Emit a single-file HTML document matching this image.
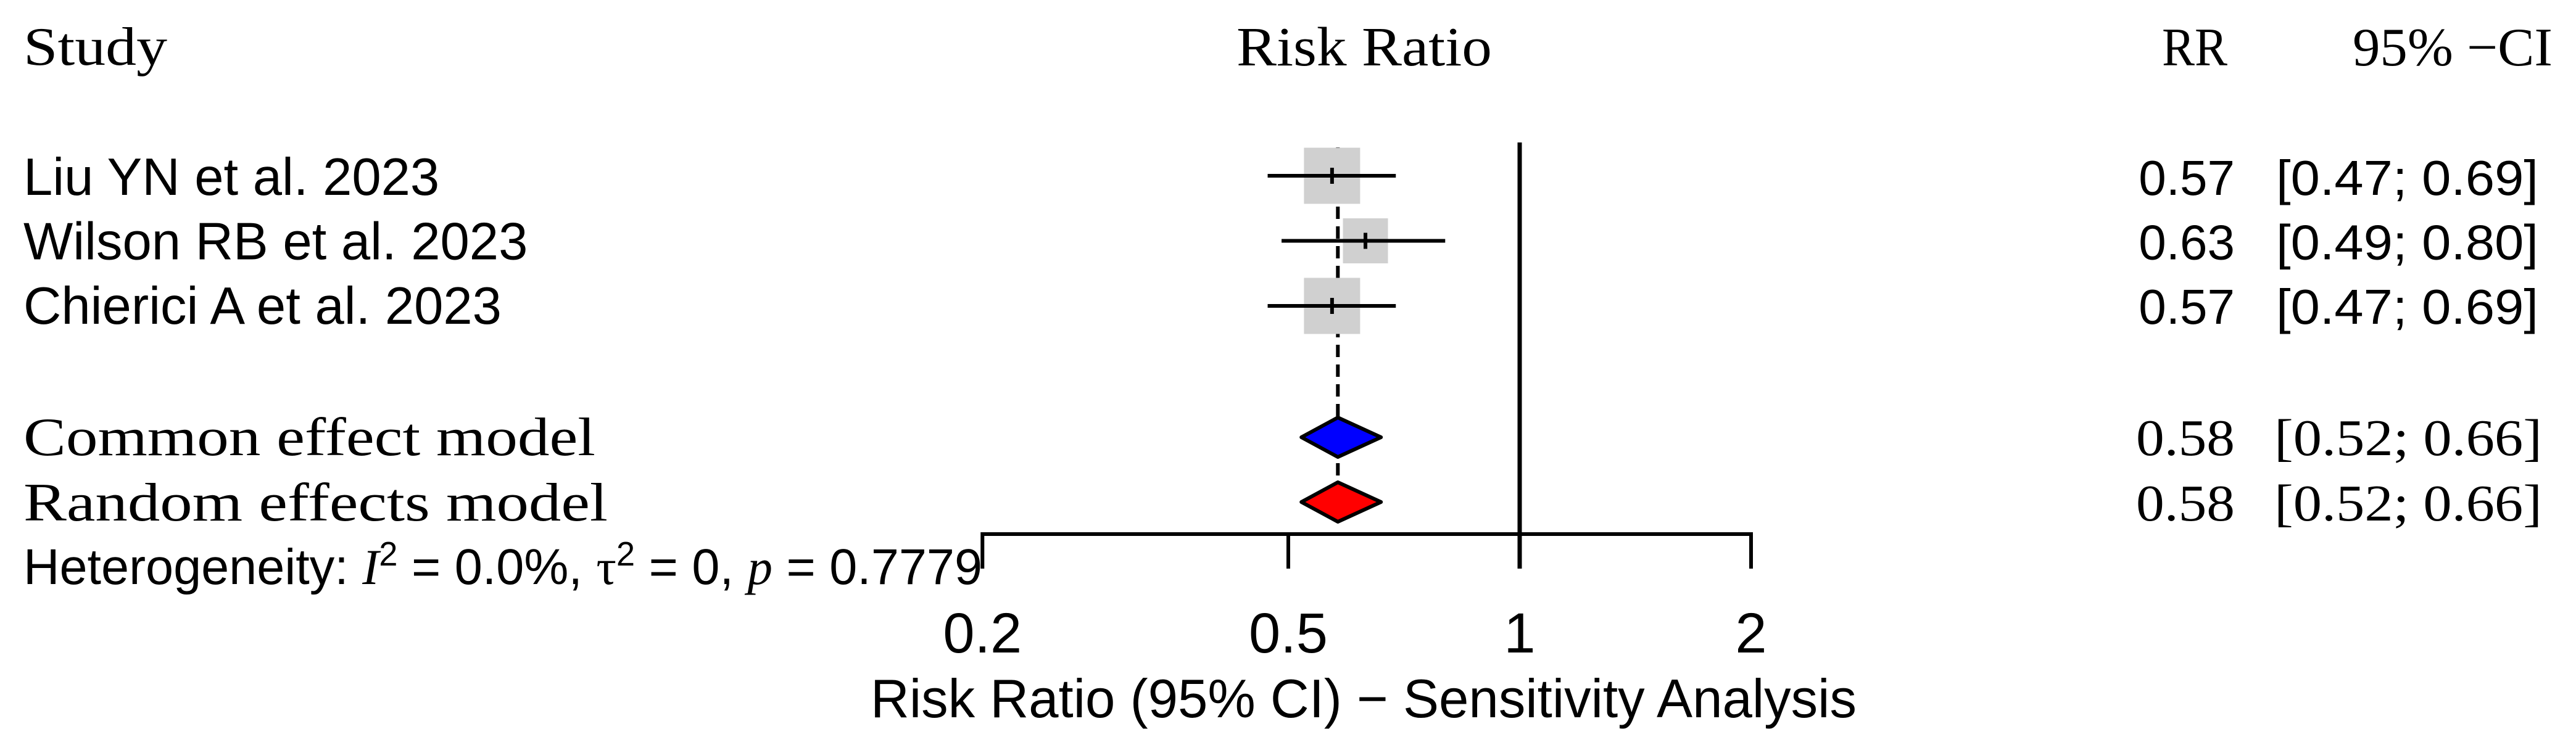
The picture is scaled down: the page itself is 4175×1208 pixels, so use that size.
<!DOCTYPE html>
<html><head><meta charset="utf-8"><style>
html,body{margin:0;padding:0;background:#fff;}
svg{display:block;}
text{font-family:"Liberation Sans",sans-serif;fill:#000;}
.serif{font-family:"Liberation Serif",serif;}
</style></head><body>
<svg id="chart" width="4175" height="1208" viewBox="0 0 4175 1208" xmlns="http://www.w3.org/2000/svg">
<g>
<text class="serif" x="38" y="105" font-size="88" textLength="233" lengthAdjust="spacingAndGlyphs">Study</text>
<text class="serif" x="2004" y="106" font-size="90" textLength="414" lengthAdjust="spacingAndGlyphs">Risk Ratio</text>
<text class="serif" x="3504" y="106" font-size="88" textLength="106" lengthAdjust="spacingAndGlyphs">RR</text>
<text class="serif" x="3813" y="106" font-size="88" textLength="324" lengthAdjust="spacingAndGlyphs">95% −CI</text>
</g>
<g id="rows"></g>
<g id="marks"></g>
<g id="axis"></g>
<text x="38" y="947" font-size="82" textLength="1554" lengthAdjust="spacingAndGlyphs">Heterogeneity: <tspan class="serif" font-style="italic">I</tspan><tspan dy="-30" font-size="55">2</tspan><tspan dy="30"> = 0.0%, </tspan><tspan class="serif">τ</tspan><tspan dy="-30" font-size="55">2</tspan><tspan dy="30"> = 0, </tspan><tspan class="serif" font-style="italic">p</tspan> = 0.7779</text>
<text x="2210" y="1163" font-size="88" text-anchor="middle" textLength="1598" lengthAdjust="spacingAndGlyphs">Risk Ratio (95% CI) − Sensitivity Analysis</text>
</svg>
<script>
const studies = ["Liu YN et al. 2023","Wilson RB et al. 2023","Chierici A et al. 2023"];
const rr = [0.57, 0.63, 0.57];
const lower = [0.47, 0.49, 0.47];
const upper = [0.69, 0.80, 0.69];
const weights = [91, 73, 91];
const pooledLabels = ["Common effect model","Random effects model"];
const pooledRR = [0.58, 0.58];
const pooledLower = [0.52, 0.52];
const pooledUpper = [0.66, 0.66];
const pooledColors = ["#0000ff","#ff0000"];
const ticks = [0.2, 0.5, 1, 2];

const NS = "http://www.w3.org/2000/svg";
const x = v => 2463 + 375 * Math.log2(v);
const studyY = i => 285 + i * 105.5;
const studyTextY = i => 316 + i * 104.5;
const pooledY = i => 709 + i * 105;
const pooledTextY = i => 738 + i * 106;
const fmt = v => v.toFixed(2);
function mk(tag, attrs, parent, txt){
  const e = document.createElementNS(NS, tag);
  for (const k in attrs) e.setAttribute(k, attrs[k]);
  if (txt !== undefined) e.textContent = txt;
  parent.appendChild(e); return e;
}
const rows = document.getElementById('rows');
const marks = document.getElementById('marks');
const axis = document.getElementById('axis');

let dl = mk('line', {x1:x(pooledRR[0]), x2:x(pooledRR[0]), y1:studyY(0)-46, y2:pooledY(1)-32, stroke:'#000','stroke-width':6,'stroke-dasharray':'20 12'}, marks);


let nl = mk('line', {x1:x(1), x2:x(1), y1:231, y2:922, stroke:'#000','stroke-width':7}, marks);



studies.forEach((s, i) => {
  const y = studyY(i);
  const w = weights[i];
  let sq = mk('rect', {x:x(rr[i])-w/2, y:y-w/2, width:w, height:w, fill:'#d0d0d0'}, marks);
  
  
  let ci = mk('line', {x1:x(lower[i]), x2:x(upper[i]), y1:y, y2:y, stroke:'#000','stroke-width':6}, marks);
  
  
  let pt = mk('line', {x1:x(rr[i]), x2:x(rr[i]), y1:y-13, y2:y+13, stroke:'#000','stroke-width':6}, marks);
  
  
  const ty = studyTextY(i);
  let lab = mk('text', {x:38, y:ty, 'font-size':85}, rows, s);
  
  
  let v = mk('text', {x:3622, y:ty, 'font-size':80, 'text-anchor':'end'}, rows, fmt(rr[i]));
  
  
  let c = mk('text', {x:3689, y:ty, 'font-size':80, textLength:425, lengthAdjust:'spacingAndGlyphs'}, rows, '[' + fmt(lower[i]) + '; ' + fmt(upper[i]) + ']');
  
  
});

pooledLabels.forEach((s, i) => {
  const y = pooledY(i);
  const h = 32;
  const pts = [[x(pooledLower[i]),y],[x(pooledRR[i]),y-h],[x(pooledUpper[i]),y],[x(pooledRR[i]),y+h]].map(p=>p.join(',')).join(' ');
  let d = mk('polygon', {points:pts, fill:pooledColors[i], stroke:'#000','stroke-width':6,'stroke-linejoin':'round'}, marks);
  
  
  const ty = pooledTextY(i);
  let lab = mk('text', {x:38, y:ty, 'font-size':88, class:'serif', textLength:(i?947:927), lengthAdjust:'spacingAndGlyphs'}, rows, s);
  
  
  let v = mk('text', {x:3622, y:ty, 'font-size':84, class:'serif', 'text-anchor':'end', textLength:160, lengthAdjust:'spacingAndGlyphs'}, rows, fmt(pooledRR[i]));
  
  
  let c = mk('text', {x:3686, y:ty, 'font-size':84, class:'serif', textLength:434, lengthAdjust:'spacingAndGlyphs'}, rows, '[' + fmt(pooledLower[i]) + '; ' + fmt(pooledUpper[i]) + ']');
  
  
});

let ax = mk('line', {x1:x(ticks[0]), x2:x(ticks[ticks.length-1]), y1:866, y2:866, stroke:'#000','stroke-width':6}, axis);


ticks.forEach(t => {
  let tk = mk('line', {x1:x(t), x2:x(t), y1:863, y2:922, stroke:'#000','stroke-width':6}, axis);
  
  
  let tl = mk('text', {x:x(t), y:1058, 'font-size':92, 'text-anchor':'middle'}, axis, String(t));
  
  
});
</script>
</body></html>
